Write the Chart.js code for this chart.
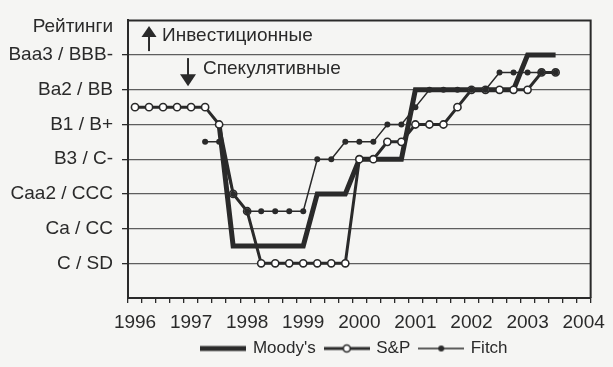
<!DOCTYPE html>
<html>
<head>
<meta charset="utf-8">
<script src="https://cdn.jsdelivr.net/npm/chart.js@4/dist/chart.umd.min.js"></script>
<style>
  html, body { margin: 0; padding: 0; background: #f5f5f3; }
  #wrap { width: 613px; height: 367px; }
</style>
</head>
<body>
<div id="wrap"><canvas id="chart" width="613" height="367"></canvas></div>
<script>
// ── Data (quarters 1996 Q1 … 2004 Q1) ───────
const periodLabels = [
  '1996', '', '', '', '1997', '', '', '', '1998', '', '', '',
  '1999', '', '', '', '2000', '', '', '', '2001', '', '', '',
  '2002', '', '', '', '2003', '', '', '', '2004'
];

// rating scale: 1 = C / SD … 7 = Baa3 / BBB-, half steps between grid lines
const ratingLabels = ['', 'C / SD', 'Ca / CC', 'Caa2 / CCC', 'B3 / C-', 'B1 / B+', 'Ba2 / BB', 'Baa3 / BBB-'];
const axisTitle    = 'Рейтинги';

const moodys = [
  null, null, null, null, null, null, 5, 1.5, 1.5, 1.5, 1.5, 1.5,
  1.5, 3, 3, 3, 4, 4, 4, 4, 6, 6, 6, 6,
  6, 6, 6, 6, 7, 7, 7, null, null
];
const sp = [
  5.5, 5.5, 5.5, 5.5, 5.5, 5.5, 5, 3, 2.5, 1, 1, 1,
  1, 1, 1, 1, 4, 4, 4.5, 4.5, 5, 5, 5, 5.5,
  6, 6, 6, 6, 6, 6.5, 6.5, null, null
];
const fitch = [
  null, null, null, null, null, 4.5, 4.5, 3, 2.5, 2.5, 2.5, 2.5,
  2.5, 4, 4, 4.5, 4.5, 4.5, 5, 5, 5.5, 6, 6, 6,
  6, 6, 6.5, 6.5, 6.5, 6.5, 6.5, null, null
];

const seriesNames = ["Moody's", 'S&P', 'Fitch'];

// ── Style ───────────────────────────────────
const FONT = "'Liberation Sans', Arial, sans-serif";
const INK  = '#2a2a2a';
const GRID = '#5e5e5e';

// legend icons: line with marker
function legendIcon(kind) {
  const c = document.createElement('canvas');
  c.width = 46; c.height = 12;
  const g = c.getContext('2d');
  const m = c.height / 2;
  g.strokeStyle = INK; g.fillStyle = INK;
  g.lineWidth = kind === 'moodys' ? 5 : kind === 'sp' ? 3 : 1.5;
  g.beginPath(); g.moveTo(0, m); g.lineTo(c.width, m); g.stroke();
  if (kind === 'sp') {
    g.beginPath(); g.arc(c.width / 2, m, 3.5, 0, Math.PI * 2);
    g.fillStyle = '#fff'; g.fill();
    g.lineWidth = 1.6; g.stroke();
  } else if (kind === 'fitch') {
    g.beginPath(); g.arc(c.width / 2, m, 3, 0, Math.PI * 2); g.fill();
  }
  return c;
}
const icons = [legendIcon('moodys'), legendIcon('sp'), legendIcon('fitch')];

// ── Plugins ─────────────────────────────────
const framePlugin = {
  id: 'frame',
  beforeDatasetsDraw(chart) {
    const { ctx, chartArea: a } = chart;
    ctx.save();
    ctx.strokeStyle = INK;
    ctx.lineWidth = 2;
    ctx.beginPath();
    ctx.moveTo(a.left, a.top);
    ctx.lineTo(a.right, a.top);
    ctx.lineTo(a.right, a.bottom);
    ctx.stroke();
    ctx.restore();
  }
};

const notesPlugin = {
  id: 'notes',
  afterDraw(chart) {
    const { ctx, scales: { x, y } } = chart;
    ctx.save();
    ctx.fillStyle = INK;
    ctx.strokeStyle = INK;
    ctx.font = '19px ' + FONT;
    ctx.textBaseline = 'middle';

    // axis title above the rating labels
    ctx.textAlign = 'right';
    ctx.fillText(axisTitle, x.left - 15, y.getPixelForValue(7.83));

    // up arrow + "investment grade"
    const ux = x.getPixelForValue(1);
    const uTip = y.getPixelForValue(7.84);
    ctx.lineWidth = 2;
    ctx.beginPath(); ctx.moveTo(ux, y.getPixelForValue(7) - 4); ctx.lineTo(ux, uTip + 8); ctx.stroke();
    ctx.beginPath(); ctx.moveTo(ux, uTip); ctx.lineTo(ux - 7.5, uTip + 11); ctx.lineTo(ux + 7.5, uTip + 11); ctx.closePath(); ctx.fill();
    ctx.textAlign = 'left';
    ctx.fillText('Инвестиционные', ux + 13, y.getPixelForValue(7.57));

    // down arrow + "speculative grade"
    const dx = ux + 39;
    const dTip = y.getPixelForValue(6.1);
    ctx.beginPath(); ctx.moveTo(dx, y.getPixelForValue(7) + 3); ctx.lineTo(dx, dTip - 8); ctx.stroke();
    ctx.beginPath(); ctx.moveTo(dx, dTip); ctx.lineTo(dx - 8, dTip - 12); ctx.lineTo(dx + 8, dTip - 12); ctx.closePath(); ctx.fill();
    ctx.fillText('Спекулятивные', dx + 15, y.getPixelForValue(6.6));
    ctx.restore();
  }
};

// shift the legend row to the right, under the plot
const legendShift = {
  id: 'legendShift',
  afterLayout(chart) {
    const lg = chart.legend;
    if (!lg) return;
    lg.left += 56;
    lg.right += 56;
  }
};

// ── Chart ───────────────────────────────────
new Chart(document.getElementById('chart'), {
  type: 'line',
  data: {
    labels: periodLabels,
    datasets: [
      {
        label: seriesNames[0],
        data: moodys,
        borderColor: INK,
        borderWidth: 5,
        pointRadius: 0,
        tension: 0,
        order: 2
      },
      {
        label: seriesNames[1],
        data: sp,
        borderColor: INK,
        borderWidth: 3,
        pointRadius: 3.6,
        pointBorderWidth: 1.6,
        pointBackgroundColor: '#ffffff',
        pointBorderColor: INK,
        tension: 0,
        order: 1
      },
      {
        label: seriesNames[2],
        data: fitch,
        borderColor: INK,
        borderWidth: 1.5,
        pointRadius: 3,
        pointBorderWidth: 0,
        pointBackgroundColor: INK,
        tension: 0,
        order: 0
      }
    ]
  },
  options: {
    responsive: false,
    animation: false,
    layout: { padding: { top: 12, right: 15, left: 0, bottom: 0 } },
    plugins: {
      tooltip: { enabled: false },
      legend: {
        position: 'bottom',
        align: 'center',
        labels: {
          color: INK,
          font: { family: FONT, size: 17 },
          usePointStyle: true,
          pointStyleWidth: 42,
          padding: 10,
          sort: (a, b) => a.datasetIndex - b.datasetIndex,
          generateLabels(chart) {
            const items = Chart.defaults.plugins.legend.labels.generateLabels(chart);
            items.forEach(it => { it.pointStyle = icons[it.datasetIndex]; });
            return items;
          }
        }
      }
    },
    scales: {
      x: {
        type: 'category',
        offset: true,
        afterFit(scale) { scale.height = 32; },
        grid: {
          offset: true,
          drawOnChartArea: false,
          drawTicks: true,
          tickLength: 5,
          color: INK,
          lineWidth: 1.3
        },
        border: { color: INK, width: 2 },
        ticks: {
          autoSkip: false,
          maxRotation: 0,
          minRotation: 0,
          padding: 8,
          color: INK,
          font: { family: FONT, size: 19 }
        }
      },
      y: {
        min: 0,
        max: 8,
        afterBuildTicks(scale) {
          scale.ticks = scale.ticks.filter(t => t.value >= 1 && t.value <= 7);
        },
        afterFit(scale) { scale.width = 128; },
        grid: {
          color: GRID,
          lineWidth: 1.3,
          tickLength: 6,
          tickColor: INK
        },
        border: { color: INK, width: 2 },
        ticks: {
          stepSize: 1,
          padding: 9,
          color: INK,
          font: { family: FONT, size: 19 },
          callback: v => ratingLabels[v] || ''
        }
      }
    }
  },
  plugins: [framePlugin, notesPlugin, legendShift]
});
</script>
</body>
</html>
